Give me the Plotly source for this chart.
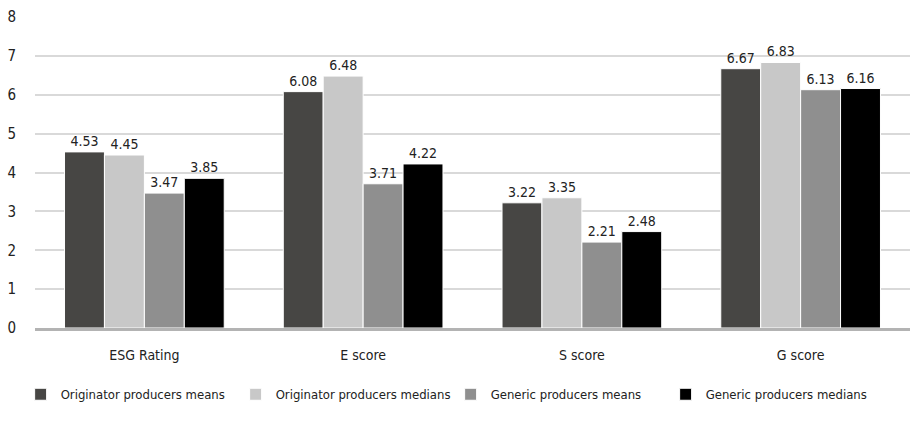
import plotly.graph_objects as go

categories = ["ESG Rating", "E score", "S score", "G score"]
series_names = [
    "Originator producers means",
    "Originator producers medians",
    "Generic producers means",
    "Generic producers medians",
]
orig_means = [4.53, 6.08, 3.22, 6.67]
orig_medians = [4.45, 6.48, 3.35, 6.83]
gen_means = [3.47, 3.71, 2.21, 6.13]
gen_medians = [3.85, 4.22, 2.48, 6.16]
y_ticks = [0, 1, 2, 3, 4, 5, 6, 7, 8]

colors = ["#474644", "#c8c8c8", "#8f8f8f", "#000000"]
FONT = "Liberation Sans Narrow, DejaVu Sans Condensed, Arial Narrow, sans-serif"

fig = go.Figure()
for name, vals, col in zip(series_names, [orig_means, orig_medians, gen_means, gen_medians], colors):
    fig.add_trace(go.Bar(
        x=categories, y=vals, name=name,
        marker=dict(color=col, line=dict(color="white", width=1)),
        text=[f"{v:.2f}" for v in vals], textposition="outside",
        textfont=dict(family=FONT, size=14, color="#222"),
        cliponaxis=False,
    ))

fig.update_layout(
    width=912, height=424,
    margin=dict(l=35, r=2, t=17, b=96),
    paper_bgcolor="white", plot_bgcolor="white",
    barmode="group", bargap=0.27, bargroupgap=0,
    font=dict(family=FONT, size=14, color="#222"),
    showlegend=True,
    legend=dict(orientation="h", x=0.475, xanchor="center", y=-0.165, yanchor="top",
                font=dict(family=FONT, size=13, color="#222"), itemwidth=30,
                entrywidth=170, entrywidthmode="pixels"),
    xaxis=dict(showgrid=False, showline=True, linecolor="#b3b3b3", linewidth=3,
               ticks="", ticklabelstandoff=12, tickfont=dict(size=14)),
    yaxis=dict(range=[0, 8], tickvals=y_ticks, showgrid=True, gridcolor="#d9d9d9",
               gridwidth=1.5, zeroline=False, showline=False, ticks="",
               ticklabelstandoff=18, tickfont=dict(size=15)),
)

fig.write_html("out.html")
